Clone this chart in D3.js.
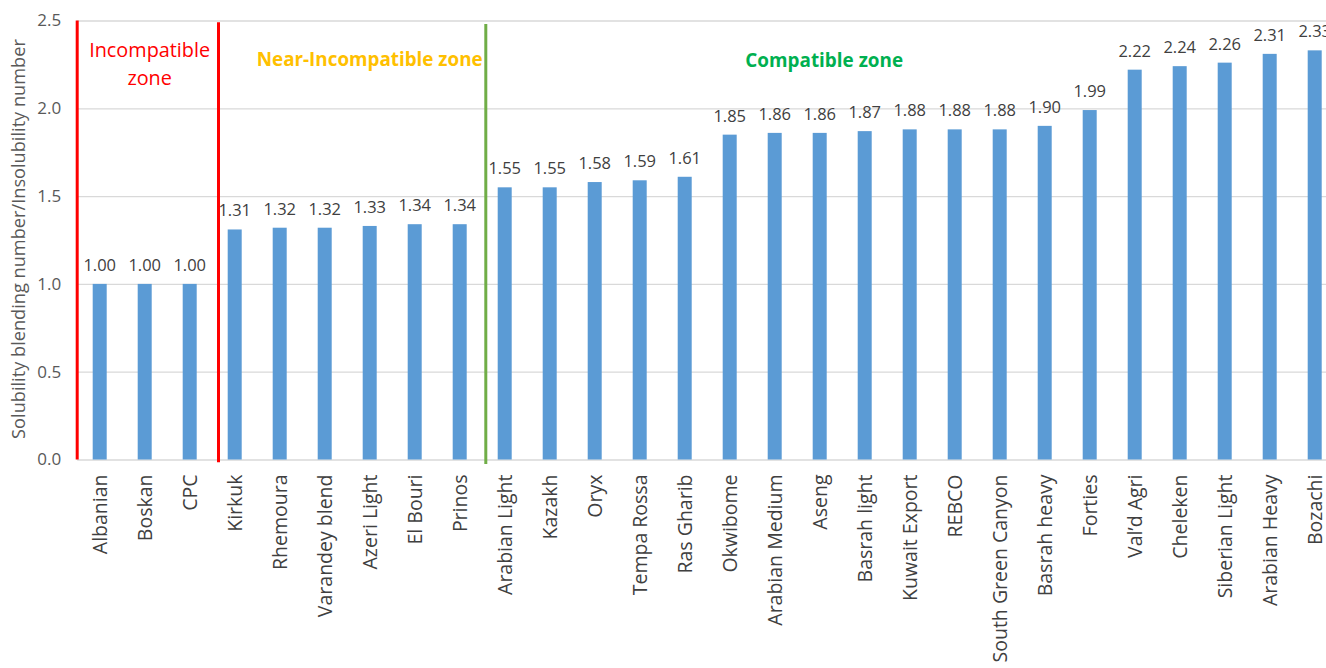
<!DOCTYPE html>
<html>
<head>
<meta charset="utf-8">
<script src="https://d3js.org/d3.v7.min.js"></script>
<style>
  html, body { margin: 0; padding: 0; background: #fff; }
  svg { display: block; font-family: "Open Sans", "DejaVu Sans", sans-serif; }
</style>
</head>
<body>
<svg id="chart" width="1326" height="668"></svg>
<script>
// ---- data ----
const categories = ["Albanian", "Boskan", "CPC", "Kirkuk", "Rhemoura", "Varandey blend", "Azeri Light",
  "El Bouri", "Prinos", "Arabian Light", "Kazakh", "Oryx", "Tempa Rossa", "Ras Gharib", "Okwibome",
  "Arabian Medium", "Aseng", "Basrah light", "Kuwait Export", "REBCO", "South Green Canyon",
  "Basrah heavy", "Forties", "Val\u2019d Agri", "Cheleken", "Siberian Light", "Arabian Heavy", "Bozachi"];
const values = [1.00, 1.00, 1.00, 1.31, 1.32, 1.32, 1.33, 1.34, 1.34, 1.55, 1.55, 1.58, 1.59, 1.61, 1.85,
  1.86, 1.86, 1.87, 1.88, 1.88, 1.88, 1.90, 1.99, 2.22, 2.24, 2.26, 2.31, 2.33];
const yTicks = [0.0, 0.5, 1.0, 1.5, 2.0, 2.5];
const yTitle = "Solubility blending number/Insolubility number";
// zone separator lines (category-index position, value extent)
const zoneLines = [
  { pos: -0.5, top: 2.5, bottom: 0.0, color: "#ff0000" },
  { pos: 2.64, top: 2.49, bottom: -0.015, color: "#ff0000" },
  { pos: 8.58, top: 2.48, bottom: -0.025, color: "#70ad47" }
];
// zone labels (category-index centre, value baseline)
const zoneLabels = [
  { lines: ["Incompatible", "zone"], pos: 1.11, y: [2.292, 2.133], color: "#ff0000", weight: 400, width: 121 },
  { lines: ["Near-Incompatible zone"], pos: 6.0, y: [2.241], color: "#ffc000", weight: 700, width: 226 },
  { lines: ["Compatible zone"], pos: 16.1, y: [2.235], color: "#00b050", weight: 700, width: 158 }
];

// ---- layout ----
const W = 1326, H = 668;
const plotLeft = 77.2, step = 45;
const plotRight = plotLeft + step * categories.length;
const yTop = 20.5, yBottom = 459.5;

const svg = d3.select("#chart");

const x = d3.scaleBand().domain(categories).range([plotLeft, plotRight])
  .paddingInner(1 - 14 / 45).paddingOuter((1 - 14 / 45) / 2);
const xi = d3.scaleLinear().domain([-0.5, categories.length - 0.5]).range([plotLeft, plotRight]);
const y = d3.scaleLinear().domain([0, 2.5]).range([yBottom, yTop]);

// gridlines
const yAxis = d3.axisLeft(y).tickValues(yTicks).tickFormat(d3.format(".1f"))
  .tickSize(-(W - plotLeft)).tickPadding(16);
const gy = svg.append("g").attr("transform", `translate(${plotLeft},0)`).call(yAxis);
gy.select(".domain").remove();
gy.selectAll(".tick line").attr("stroke", "#d9d9d9").attr("stroke-width", 1.3);
gy.selectAll(".tick text").attr("fill", "#595959").attr("font-size", 17).attr("x", -16)
  .attr("font-family", "'Open Sans', sans-serif");

// bars
svg.append("g").selectAll("rect").data(values).join("rect")
  .attr("x", (d, i) => x(categories[i]))
  .attr("width", x.bandwidth())
  .attr("y", d => y(d))
  .attr("height", d => y(0) - y(d))
  .attr("fill", "#5b9bd5");

// data labels
svg.append("g").selectAll("text").data(values).join("text")
  .attr("x", (d, i) => x(categories[i]) + x.bandwidth() / 2)
  .attr("y", d => y(d) - 13)
  .attr("text-anchor", "middle")
  .attr("font-size", 16.5)
  .attr("fill", "#404040")
  .text(d => d3.format(".2f")(d));

// x axis labels
const xAxis = d3.axisBottom(x).tickSize(0).tickPadding(0);
const gx = svg.append("g").attr("transform", `translate(0,${yBottom})`).call(xAxis);
gx.select(".domain").remove();
gx.selectAll(".tick text")
  .attr("font-size", 19.5)
  .attr("font-family", "'Open Sans', sans-serif")
  .attr("fill", "#404040")
  .attr("text-anchor", "end")
  .attr("transform", "translate(0,15) rotate(-90)")
  .attr("x", 0).attr("y", 0).attr("dy", "0.36em");

// zone lines
svg.append("g").selectAll("line").data(zoneLines).join("line")
  .attr("x1", d => xi(d.pos)).attr("x2", d => xi(d.pos))
  .attr("y1", d => y(d.top)).attr("y2", d => y(d.bottom))
  .attr("stroke", d => d.color).attr("stroke-width", 3);

// zone labels
function fit(sel, target) {
  sel.attr("font-size", 20);
  const len = sel.node().getComputedTextLength();
  sel.attr("font-size", 20 * target / len);
}
zoneLabels.forEach(z => {
  let size = null;
  z.lines.forEach((ln, k) => {
    const t = svg.append("text")
      .attr("x", xi(z.pos)).attr("y", y(z.y[k]))
      .attr("text-anchor", "middle")
      .attr("fill", z.color)
      .attr("font-weight", z.weight)
      .text(ln);
    if (k === 0) { fit(t, z.width); size = t.attr("font-size"); }
    else t.attr("font-size", size);
  });
});

// y title
const title = svg.append("text")
  .attr("transform", `translate(24.5,${(39 + 439) / 2}) rotate(-90)`)
  .attr("text-anchor", "middle")
  .attr("fill", "#595959")
  .text(yTitle);
fit(title, 400);
</script>
</body>
</html>
